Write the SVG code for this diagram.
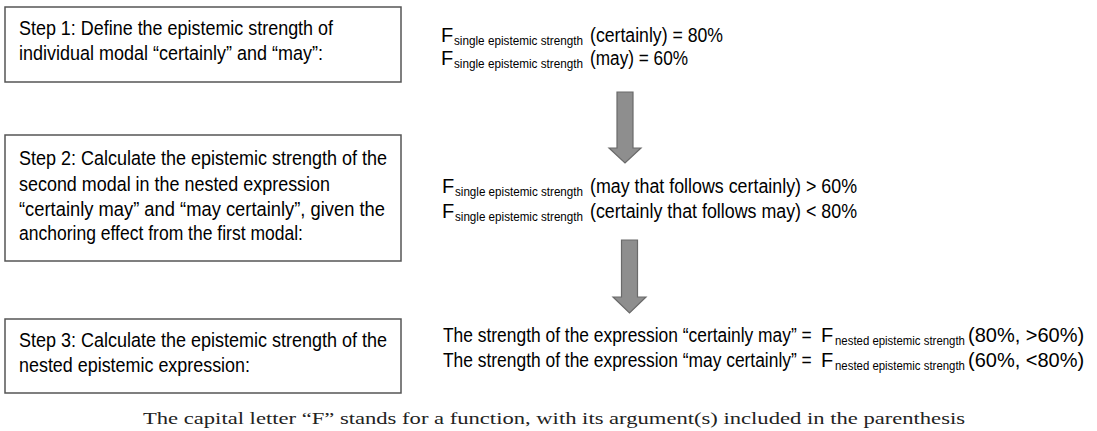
<svg xmlns="http://www.w3.org/2000/svg" width="1097" height="431" viewBox="0 0 1097 431">
<style>
.box{fill:#fff;stroke:#555;stroke-width:1.5}
.t{font-family:"Liberation Sans",Arial,sans-serif;font-size:20.5px;fill:#000}
.r{font-family:"Liberation Sans",Arial,sans-serif;font-size:20px;fill:#000}
.s{font-size:13px}
.cap{font-family:"Liberation Serif","DejaVu Serif",serif;font-size:16px;fill:#222}
.arrow{fill:#8e8e8e;stroke:#6a6a6a;stroke-width:1.2}
</style>
<rect width="1097" height="431" fill="#fff"/>
<g id="step1">
<rect class="box" x="5" y="7" width="396" height="75"/>
<text class="t" x="19" y="35" textLength="314" lengthAdjust="spacingAndGlyphs">Step 1: Define the epistemic strength of</text>
<text class="t" x="19" y="60" textLength="304" lengthAdjust="spacingAndGlyphs">individual modal “certainly” and “may”:</text>
</g>
<g id="step2">
<rect class="box" x="5" y="135" width="396" height="126"/>
<text class="t" x="19" y="165" textLength="368" lengthAdjust="spacingAndGlyphs">Step 2: Calculate the epistemic strength of the</text>
<text class="t" x="19" y="191" textLength="311" lengthAdjust="spacingAndGlyphs">second modal in the nested expression</text>
<text class="t" x="19" y="216" textLength="366" lengthAdjust="spacingAndGlyphs">“certainly may” and “may certainly”, given the</text>
<text class="t" x="19" y="240" textLength="284" lengthAdjust="spacingAndGlyphs">anchoring effect from the first modal:</text>
</g>
<g id="step3">
<rect class="box" x="5" y="319" width="396" height="74"/>
<text class="t" x="19" y="347" textLength="368" lengthAdjust="spacingAndGlyphs">Step 3: Calculate the epistemic strength of the</text>
<text class="t" x="19" y="372" textLength="231" lengthAdjust="spacingAndGlyphs">nested epistemic expression:</text>
</g>
<g id="result1">
<text class="r" x="441" y="42">F<tspan class="s" x="454" dy="3" textLength="129" lengthAdjust="spacingAndGlyphs">single epistemic strength</tspan><tspan x="590" dy="-3" textLength="133" lengthAdjust="spacingAndGlyphs">(certainly) = 80%</tspan></text>
<text class="r" x="441" y="65">F<tspan class="s" x="454" dy="3" textLength="129" lengthAdjust="spacingAndGlyphs">single epistemic strength</tspan><tspan x="590" dy="-3" textLength="98" lengthAdjust="spacingAndGlyphs">(may) = 60%</tspan></text>
</g>
<g id="result2">
<text class="r" x="442" y="193">F<tspan class="s" x="455" dy="3" textLength="128" lengthAdjust="spacingAndGlyphs">single epistemic strength</tspan><tspan x="590" dy="-3" textLength="267" lengthAdjust="spacingAndGlyphs">(may that follows certainly) &gt; 60%</tspan></text>
<text class="r" x="442" y="218">F<tspan class="s" x="455" dy="3" textLength="128" lengthAdjust="spacingAndGlyphs">single epistemic strength</tspan><tspan x="590" dy="-3" textLength="267" lengthAdjust="spacingAndGlyphs">(certainly that follows may) &lt; 80%</tspan></text>
</g>
<g id="result3">
<text class="r" transform="translate(443,342) scale(0.87,1)">The strength of the expression “certainly may” =</text>
<text class="r" x="821" y="342">F</text>
<text class="r s" transform="translate(835,345) scale(0.878,1)">nested epistemic strength</text>
<text class="r" x="968" y="342">(80%, &gt;60%)</text>
<text class="r" transform="translate(443,367) scale(0.87,1)">The strength of the expression “may certainly” =</text>
<text class="r" x="821" y="367">F</text>
<text class="r s" transform="translate(835,370) scale(0.878,1)">nested epistemic strength</text>
<text class="r" x="968" y="367">(60%, &lt;80%)</text>
</g>
<g id="connectors">
<polygon class="arrow" points="617,92 633,92 633,148 641,148 625,163 609,148 617,148"/>
<polygon class="arrow" points="621.5,240 637.5,240 637.5,297 646,297 629.5,313 613,297 621.5,297"/>
</g>
<g id="caption">
<text class="cap" x="143" y="424" textLength="822" lengthAdjust="spacingAndGlyphs">The capital letter “F” stands for a function, with its argument(s) included in the parenthesis</text>
</g>
</svg>
